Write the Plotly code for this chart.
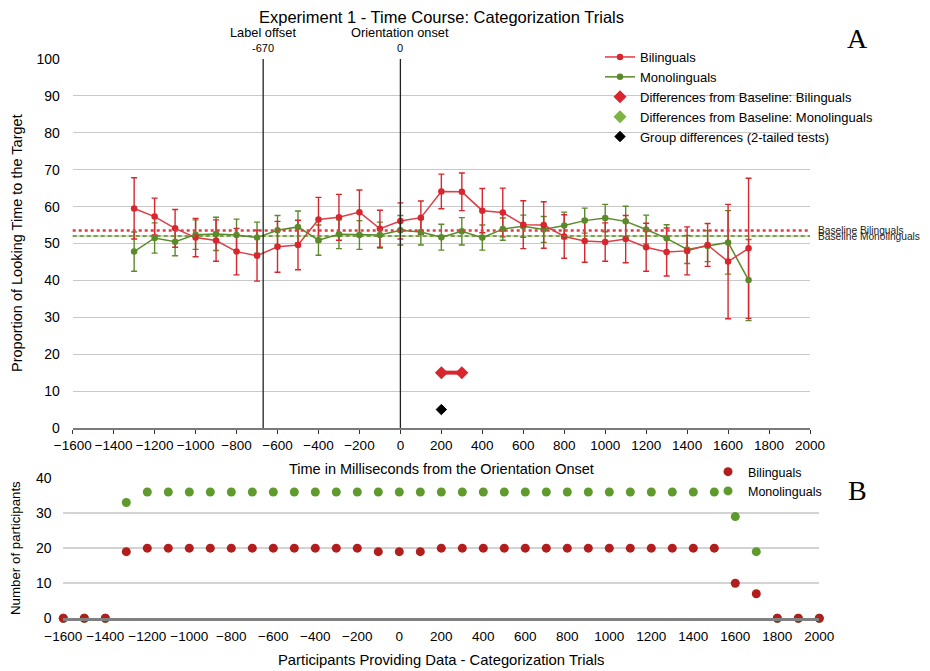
import plotly.graph_objects as go

# ---------------- data ----------------
times = [-1300, -1200, -1100, -1000, -900, -800, -700, -600, -500, -400, -300, -200, -100,
         0, 100, 200, 300, 400, 500, 600, 700, 800, 900, 1000, 1100, 1200, 1300, 1400,
         1500, 1600, 1700]
bil_mean = [59.5, 57.3, 54.1, 51.6, 50.8, 47.8, 46.7, 49.1, 49.6, 56.5, 57.1, 58.5, 54.0,
            56.1, 57.0, 64.1, 64.0, 58.9, 58.4, 55.1, 55.0, 51.9, 50.7, 50.4, 51.2, 49.0,
            47.7, 48.0, 49.6, 45.1, 48.7]
bil_err = [8.3, 5.0, 5.1, 5.2, 5.6, 6.3, 6.9, 6.9, 6.7, 6.0, 6.2, 6.0, 5.0,
           4.9, 4.5, 4.7, 5.1, 6.0, 6.6, 6.5, 6.3, 5.9, 5.8, 5.2, 6.4, 6.5,
           6.5, 6.5, 5.8, 15.5, 19.0]
mono_mean = [47.8, 51.5, 50.5, 52.4, 52.6, 52.3, 51.6, 53.6, 54.5, 50.9, 52.5, 52.3, 52.3,
             53.6, 53.1, 51.7, 53.3, 51.6, 53.9, 54.7, 53.8, 54.9, 56.2, 56.9, 56.0, 53.8,
             51.4, 48.4, 49.3, 50.3, 40.1]
mono_err = [5.3, 4.1, 3.8, 4.0, 4.5, 4.3, 4.2, 4.0, 4.3, 4.1, 3.9, 3.9, 3.5,
            4.0, 3.5, 3.5, 3.7, 3.4, 3.0, 3.0, 3.5, 3.6, 3.4, 3.7, 4.1, 3.9,
            3.7, 3.8, 4.2, 8.6, 11.0]
baseline_bil = 53.5
baseline_mono = 52.0
diff_bil_times = [200, 300]
diff_bil_y = [15, 15]
group_diff_times = [200]
group_diff_y = [5]
event_times = [-670, 0]
event_names = ["Label offset", "Orientation onset"]
event_values = ["-670", "0"]

n_times = [-1600, -1500, -1400, -1300, -1200, -1100, -1000, -900, -800, -700, -600, -500,
           -400, -300, -200, -100, 0, 100, 200, 300, 400, 500, 600, 700, 800, 900, 1000,
           1100, 1200, 1300, 1400, 1500, 1600, 1700, 1800, 1900, 2000]
n_bil = [0, 0, 0, 19, 20, 20, 20, 20, 20, 20, 20, 20, 20, 20, 20, 19, 19, 19, 20, 20, 20,
         20, 20, 20, 20, 20, 20, 20, 20, 20, 20, 20, 10, 7, 0, 0, 0]
n_mono = [0, 0, 0, 33, 36, 36, 36, 36, 36, 36, 36, 36, 36, 36, 36, 36, 36, 36, 36, 36, 36,
          36, 36, 36, 36, 36, 36, 36, 36, 36, 36, 36, 29, 19, 0, 0, 0]

x_ticks_top = [-1600, -1400, -1200, -1000, -800, -600, -400, -200, 0, 200, 400, 600, 800,
               1000, 1200, 1400, 1600, 1800, 2000]

# ---------------- styling ----------------
W, H = 930, 671
OFF = 8  # page body margin
FONT = "Liberation Sans, Arial, sans-serif"
SERIF = "Liberation Serif, DejaVu Serif, serif"
RED = "#d8262e"
RED_LINE = "#de3d44"
GREEN = "#5a8a29"
LIGHT_GREEN = "#7cb342"
DRED = "#b21d1d"
DGREEN = "#5e9a2c"
GRID = "#c9c9c9"
AXIS = "#7a7a7a"


def fx(p):
    return (p - OFF) / W


def fy(p):
    return 1 - (p - OFF) / H


fig = go.Figure()

# error bars (separate so legend glyphs stay clean)
fig.add_trace(go.Scatter(x=times, y=mono_mean, mode="markers", marker=dict(size=0.1, color=GREEN),
                         error_y=dict(type="data", array=mono_err, color=GREEN, thickness=1.4, width=3),
                         showlegend=False, hoverinfo="skip", xaxis="x", yaxis="y"))
fig.add_trace(go.Scatter(x=times, y=bil_mean, mode="markers", marker=dict(size=0.1, color=RED),
                         error_y=dict(type="data", array=bil_err, color=RED, thickness=1.4, width=3),
                         showlegend=False, hoverinfo="skip", xaxis="x", yaxis="y"))

fig.add_trace(go.Scatter(x=times, y=mono_mean, mode="lines+markers", name="Monolinguals",
                         line=dict(color=GREEN, width=1.5), marker=dict(color=GREEN, size=6.5),
                         legendrank=2, xaxis="x", yaxis="y", legend="legend"))
fig.add_trace(go.Scatter(x=times, y=bil_mean, mode="lines+markers", name="Bilinguals",
                         line=dict(color=RED_LINE, width=1.5), marker=dict(color=RED, size=6.5),
                         legendrank=1, xaxis="x", yaxis="y", legend="legend"))

# differences from baseline
fig.add_trace(go.Scatter(x=diff_bil_times, y=diff_bil_y, mode="lines",
                         line=dict(color=RED, width=4), showlegend=False, hoverinfo="skip",
                         xaxis="x", yaxis="y"))
fig.add_trace(go.Scatter(x=diff_bil_times, y=diff_bil_y, mode="markers",
                         name="Differences from Baseline: Bilinguals",
                         marker=dict(symbol="diamond", color=RED, size=10), legendrank=3,
                         xaxis="x", yaxis="y", legend="legend"))
fig.add_trace(go.Scatter(x=[None], y=[None], mode="markers",
                         name="Differences from Baseline: Monolinguals",
                         marker=dict(symbol="diamond", color=LIGHT_GREEN, size=10), legendrank=4,
                         xaxis="x", yaxis="y", legend="legend"))
fig.add_trace(go.Scatter(x=group_diff_times, y=group_diff_y, mode="markers",
                         name="Group differences (2-tailed tests)",
                         marker=dict(symbol="diamond", color="black", size=8,
                                     line=dict(color="black", width=1)), legendrank=5,
                         xaxis="x", yaxis="y", legend="legend"))

# bottom chart
fig.add_trace(go.Scatter(x=n_times, y=n_mono, mode="markers", name="Monolinguals",
                         marker=dict(color=DGREEN, size=9), cliponaxis=False, legendrank=2,
                         xaxis="x2", yaxis="y2", legend="legend2"))
fig.add_trace(go.Scatter(x=n_times, y=n_bil, mode="markers", name="Bilinguals",
                         marker=dict(color=DRED, size=9), cliponaxis=False, legendrank=1,
                         xaxis="x2", yaxis="y2", legend="legend2"))

shapes = []
# baselines
shapes.append(dict(type="line", xref="x domain", yref="y", x0=0, x1=1, y0=baseline_mono,
                   y1=baseline_mono, line=dict(color=LIGHT_GREEN, width=2), opacity=0.35, layer="below"))
shapes.append(dict(type="line", xref="x domain", yref="y", x0=0, x1=1, y0=baseline_mono,
                   y1=baseline_mono, line=dict(color=GREEN, width=1.5, dash="4px,3px")))
shapes.append(dict(type="line", xref="x domain", yref="y", x0=0, x1=1, y0=baseline_bil,
                   y1=baseline_bil, line=dict(color=RED_LINE, width=2.5, dash="dot")))
# event lines
for t in event_times:
    shapes.append(dict(type="line", xref="x", yref="y domain", x0=t, x1=t, y0=0, y1=1,
                       line=dict(color="#222222", width=1.3)))


def ann(text, x, y, size, xref="paper", yref="paper", family=FONT, **kw):
    d = dict(text=text, xref=xref, yref=yref, x=x, y=y, showarrow=False,
             xanchor="center", yanchor="middle",
             font=dict(size=size, family=family, color="black"))
    d.update(kw)
    return d


annotations = [
    ann("Experiment 1 - Time Course: Categorization Trials", fx(441), fy(17), 16.5),
    ann("Proportion of Looking Time to the Target", fx(17), fy(243), 14.5, textangle=-90),
    ann("Time in Milliseconds from the Orientation Onset", fx(441), fy(469), 14.5),
    ann("Number of participants", fx(15), fy(548), 13.3, textangle=-90),
    ann("Participants Providing Data - Categorization Trials", fx(441), fy(660), 14.8),
    ann("A", fx(857), fy(38), 28, family=SERIF),
    ann("B", fx(857), fy(490), 28, family=SERIF),
]
annotations.append(dict(text="Baseline Bilinguals", xref="x", yref="y", x=2000, y=baseline_bil,
                        xanchor="left", yanchor="middle", xshift=6, showarrow=False,
                        font=dict(size=10.2, family=FONT, color="#222")))
annotations.append(dict(text="Baseline Monolinguals", xref="x", yref="y", x=2000, y=baseline_mono,
                        xanchor="left", yanchor="middle", xshift=6, showarrow=False,
                        font=dict(size=10.2, family=FONT, color="#222")))
for t, name, val in zip(event_times, event_names, event_values):
    annotations.append(ann(name, t, fy(33), 12.8, xref="x"))
    annotations.append(ann(val, t, fy(47.5), 11, xref="x"))

fig.update_layout(
    width=W, height=H,
    margin=dict(l=0, r=0, t=0, b=0, autoexpand=False),
    paper_bgcolor="white", plot_bgcolor="white",
    font=dict(family=FONT, color="black"),
    showlegend=True,
    xaxis=dict(domain=[fx(72.7), fx(810)], range=[-1600, 2000], tickvals=x_ticks_top,
               tickangle=0, automargin=False,
               showgrid=False, zeroline=False, showline=True, linecolor=AXIS, linewidth=2,
               ticks="outside", ticklen=4, tickcolor="#333", tickwidth=1.3,
               tickfont=dict(size=13.5, family=FONT, color="black"), anchor="y"),
    yaxis=dict(domain=[fy(428), fy(59)], range=[0, 100], dtick=10, showgrid=True, gridcolor=GRID,
               gridwidth=1.3, zeroline=False, showline=False, ticks="outside", ticklen=9,
               automargin=False,
               tickcolor="rgba(0,0,0,0)", tickfont=dict(size=14, family=FONT, color="black"),
               anchor="x"),
    xaxis2=dict(domain=[fx(63.3), fx(819.3)], range=[-1600, 2000], tickvals=x_ticks_top,
                tickangle=0, automargin=False,
                showgrid=False, zeroline=False, showline=True, linecolor="#808080", linewidth=2.5,
                ticks="outside", ticklen=4, tickcolor="rgba(0,0,0,0)",
                tickfont=dict(size=13.5, family=FONT, color="black"), anchor="y2"),
    yaxis2=dict(domain=[fy(618.3), fy(478)], range=[0, 40], dtick=10, showgrid=True,
                gridcolor="#d3d3d3", gridwidth=1.6, zeroline=False, showline=False,
                automargin=False,
                ticks="outside", ticklen=8, tickcolor="rgba(0,0,0,0)",
                tickfont=dict(size=14, family=FONT, color="black"), anchor="x2"),
    legend=dict(x=fx(600), y=fy(42), xanchor="left", yanchor="top", bgcolor="rgba(0,0,0,0)",
                font=dict(size=13, family=FONT, color="black"), traceorder="normal"),
    legend2=dict(x=fx(708), y=fy(457), xanchor="left", yanchor="top", bgcolor="rgba(0,0,0,0)",
                 font=dict(size=12.5, family=FONT, color="black"), traceorder="normal"),
    shapes=shapes,
    annotations=annotations,
)

fig.write_html("out.html")
